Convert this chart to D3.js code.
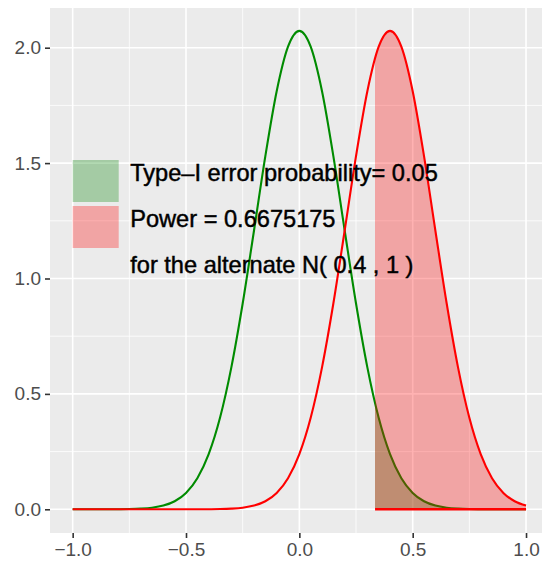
<!DOCTYPE html>
<html>
<head>
<meta charset="utf-8">
<script src="https://cdn.jsdelivr.net/npm/d3@7"></script>
<style>
  body { margin: 0; background: #fff; }
  svg { display: block; font-family: "Liberation Sans", Arial, sans-serif; }
</style>
</head>
<body>
<div id="chart"></div>
<script>
// x grid of the density curves
const xs = [-1.00, -0.95, -0.90, -0.85, -0.80, -0.75, -0.70, -0.65, -0.60, -0.55,
	-0.50, -0.45, -0.40, -0.35, -0.30, -0.25, -0.20, -0.15, -0.10, -0.05,
	0.00, 0.05, 0.10, 0.15, 0.20, 0.25, 0.30, 0.35, 0.40, 0.45,
	0.50, 0.55, 0.60, 0.65, 0.70, 0.75, 0.80, 0.85, 0.90, 0.95, 1.00];

// null density (green)
const nullDensity = [0, 0, 0, 0.0001, 0.0004, 0.0010, 0.0028, 0.0069, 0.0161, 0.0349,
	0.0709, 0.1347, 0.2391, 0.3966, 0.6151, 0.8916, 1.2080, 1.5300, 1.8112, 2.0042,
	2.0730, 2.0042, 1.8112, 1.5300, 1.2080, 0.8916, 0.6151, 0.3966, 0.2391, 0.1347,
	0.0709, 0.0349, 0.0161, 0.0069, 0.0028, 0.0010, 0.0004, 0.0001, 0, 0, 0];

// alternate density (red)
const altDensity = [0, 0, 0, 0, 0, 0, 0, 0, 0, 0,
	0, 0.0001, 0.0004, 0.0010, 0.0028, 0.0069, 0.0161, 0.0349, 0.0709, 0.1347,
	0.2391, 0.3966, 0.6151, 0.8916, 1.2080, 1.5300, 1.8112, 2.0042, 2.0730, 2.0042,
	1.8112, 1.5300, 1.2080, 0.8916, 0.6151, 0.3966, 0.2391, 0.1347, 0.0709, 0.0349, 0.0161];

// rejection region starts here
const cutoff = 0.334;

const xTicks = [-1.0, -0.5, 0.0, 0.5, 1.0];
const xMinor = [-0.75, -0.25, 0.25, 0.75];
const yTicks = [0.0, 0.5, 1.0, 1.5, 2.0];
const yMinor = [0.25, 0.75, 1.25, 1.75];

const legendLabels = ["Type\u2013I error probability= 0.05", "Power = 0.6675175", "for the alternate N( 0.4 , 1 )"];
const legendFills = ["rgba(0,128,0,0.3)", "rgba(255,0,0,0.3)", "none"];

const W = 542, H = 563;
const panel = { left: 50, right: 548.7, top: 8, bottom: 533 };

const svg = d3.select("#chart")
	.append("svg")
	.attr("width", W)
	.attr("height", H);

const x = d3.scaleLinear()
	.domain([-1.1, 1.1])
	.range([panel.left, panel.right]);

const y = d3.scaleLinear()
	.domain([-0.1027, 2.172])
	.range([panel.bottom, panel.top]);

// Panel background
svg.append("rect")
	.attr("x", panel.left)
	.attr("y", panel.top)
	.attr("width", panel.right - panel.left)
	.attr("height", panel.bottom - panel.top)
	.attr("fill", "#EBEBEB");

// Grid
const grid = svg.append("g");
grid.selectAll(".vminor").data(xMinor).join("line")
	.attr("x1", d => x(d)).attr("x2", d => x(d))
	.attr("y1", panel.top).attr("y2", panel.bottom)
	.attr("stroke", "#fff").attr("stroke-width", 0.8);
grid.selectAll(".hminor").data(yMinor).join("line")
	.attr("y1", d => y(d)).attr("y2", d => y(d))
	.attr("x1", panel.left).attr("x2", panel.right)
	.attr("stroke", "#fff").attr("stroke-width", 0.8);
grid.selectAll(".vmajor").data(xTicks).join("line")
	.attr("x1", d => x(d)).attr("x2", d => x(d))
	.attr("y1", panel.top).attr("y2", panel.bottom)
	.attr("stroke", "#fff").attr("stroke-width", 1.6);
grid.selectAll(".hmajor").data(yTicks).join("line")
	.attr("y1", d => y(d)).attr("y2", d => y(d))
	.attr("x1", panel.left).attr("x2", panel.right)
	.attr("stroke", "#fff").attr("stroke-width", 1.6);

const nullData = xs.map((v, i) => [v, nullDensity[i]]);
const altData = xs.map((v, i) => [v, altDensity[i]]);

const line = d3.line()
	.x(d => x(d[0]))
	.y(d => y(d[1]))
	.curve(d3.curveMonotoneX);

const area = d3.area()
	.x(d => x(d[0]))
	.y0(y(0))
	.y1(d => y(d[1]))
	.curve(d3.curveMonotoneX);

// clip for the rejection region
svg.append("clipPath")
	.attr("id", "reject")
	.append("rect")
	.attr("x", x(cutoff))
	.attr("y", panel.top)
	.attr("width", x(1) - x(cutoff))
	.attr("height", panel.bottom - panel.top);

// Type-I error area
svg.append("path")
	.datum(nullData)
	.attr("clip-path", "url(#reject)")
	.attr("d", area)
	.attr("fill", legendFills[0]);

// null curve
svg.append("path")
	.datum(nullData)
	.attr("d", line)
	.attr("fill", "none")
	.attr("stroke", "#008B00")
	.attr("stroke-width", 2.1);

// Power area
svg.append("path")
	.datum(altData)
	.attr("clip-path", "url(#reject)")
	.attr("d", area)
	.attr("fill", legendFills[1]);

// alternate curve
svg.append("path")
	.datum(altData)
	.attr("d", line)
	.attr("fill", "none")
	.attr("stroke", "#FF0000")
	.attr("stroke-width", 2.1);

// baseline of the rejection region
svg.append("path")
	.datum([[cutoff, 0], [1, 0]])
	.attr("d", d3.line().x(d => x(d[0])).y(d => y(d[1])))
	.attr("stroke", "#FF0000")
	.attr("stroke-width", 2.4);

// Axes
const xAxis = svg.append("g")
	.attr("transform", `translate(0,${panel.bottom})`)
	.call(d3.axisBottom(x).tickValues(xTicks).tickSize(5).tickPadding(4)
		.tickFormat(d => d3.format(".1f")(d).replace("-", "\u2212")));
const yAxis = svg.append("g")
	.attr("transform", `translate(${panel.left},0)`)
	.call(d3.axisLeft(y).tickValues(yTicks).tickSize(5).tickPadding(4)
		.tickFormat(d3.format(".1f")));

[xAxis, yAxis].forEach(ax => {
	ax.select(".domain").remove();
	ax.selectAll(".tick line").attr("stroke", "#333").attr("stroke-width", 1.6);
	ax.selectAll(".tick text")
		.attr("fill", "#4D4D4D")
		.style("font-size", "19px")
		.style("font-family", "Liberation Sans, Arial, sans-serif");
});
xAxis.selectAll(".tick text").attr("dy", "0.75em");

// Legend
const legend = svg.append("g")
	.attr("transform", "translate(72.7,160)");

const rows = legend.selectAll("g")
	.data(legendLabels)
	.join("g")
	.attr("transform", (d, i) => `translate(0,${i * 46})`);

rows.append("rect")
	.attr("width", 46)
	.attr("height", 42)
	.attr("fill", (d, i) => legendFills[i]);

rows.append("text")
	.attr("x", 57.5)
	.attr("y", 21)
	.style("font-size", "23.6px")
	.attr("fill", "#000")
	.attr("stroke", "#000")
	.attr("stroke-width", 0.45)
	.text(d => d);
</script>
</body>
</html>
